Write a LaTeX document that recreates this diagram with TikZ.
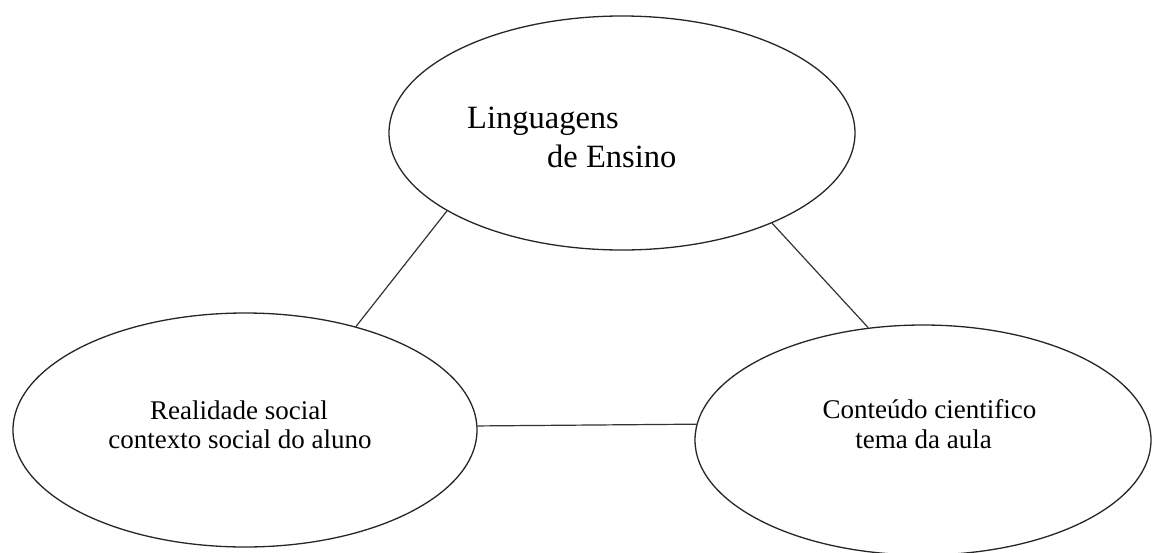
\documentclass[tikz,border=0pt]{standalone}
\usepackage{fontspec}
\setmainfont{Liberation Serif}
\usetikzlibrary{shapes.geometric}
\tikzset{
  oval/.style={draw=black!85, line width=1.3pt, ellipse, inner sep=0pt},
  link/.style={draw=black!80, line width=1.2pt},
  bigtxt/.style={inner sep=0pt, font=\fontsize{32.5}{39}\selectfont},
  smalltxt/.style={inner sep=0pt, anchor=base, font=\fontsize{27}{30}\selectfont}
}
\begin{document}
\begin{tikzpicture}[x=1pt,y=-1pt]
\useasboundingbox (0,0) rectangle (1152,552);
\clip (0,0) rectangle (1152,552);
\node[oval, minimum width=466pt, minimum height=234pt] (top) at (622,133) {};
\node[oval, minimum width=464pt, minimum height=234pt] (left) at (245,430) {};
\node[oval, minimum width=456pt, minimum height=230pt] (right) at (923,440) {};
\node[bigtxt, anchor=base west] (t1) at (467,128) {Linguagens};
\node[bigtxt, anchor=base west] (t2) at (547,167) {de Ensino};
\node[smalltxt] (l1) at (239,419) {Realidade social};
\node[smalltxt] (l2) at (240,448) {contexto social do aluno};
\node[smalltxt] (r1) at (929.5,418) {Conteúdo cientifico};
\node[smalltxt] (r2) at (923.5,448) {tema da aula};
\draw[link] (top.204.5) -- (left.43.4);
\draw[link] (top.329.5) -- (right.116);
\draw[link] (left.1) -- (right.176.5);
\end{tikzpicture}
\end{document}
